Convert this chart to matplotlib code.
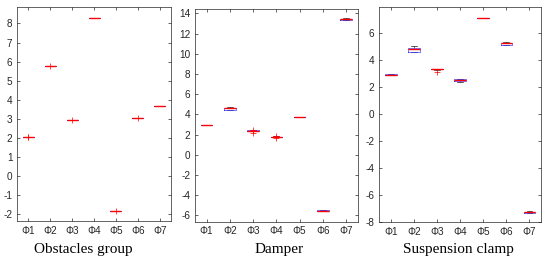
import numpy as np
import matplotlib
matplotlib.use("Agg")
import matplotlib.pyplot as plt

labels = ["Φ1", "Φ2", "Φ3", "Φ4", "Φ5", "Φ6", "Φ7"]

# Obstacles group
obs_med = [2.05, 5.75, 2.93, 8.30, -1.80, 3.07, 3.65]
obs_q1 = [2.05, 5.75, 2.93, 8.30, -1.80, 3.07, 3.65]
obs_q3 = [2.05, 5.75, 2.93, 8.30, -1.80, 3.07, 3.65]
obs_lo = [2.05, 5.75, 2.93, 8.30, -1.80, 3.07, 3.65]
obs_hi = [2.05, 5.75, 2.93, 8.30, -1.80, 3.07, 3.65]
obs_fl = [[2.05, 2.07], [5.75], [2.93], [], [-1.80], [3.07], []]

# Damper
dmp_med = [3.00, 4.62, 2.40, 1.80, 3.70, -5.53, 13.42]
dmp_q1 = [3.00, 4.45, 2.38, 1.79, 3.70, -5.58, 13.38]
dmp_q3 = [3.00, 4.68, 2.42, 1.81, 3.70, -5.49, 13.47]
dmp_lo = [3.00, 4.45, 2.36, 1.77, 3.70, -5.60, 13.36]
dmp_hi = [3.00, 4.78, 2.44, 1.83, 3.70, -5.45, 13.55]
dmp_fl = [[], [], [2.2, 2.42], [1.62, 1.82], [], [], []]

# Suspension clamp
sus_med = [2.90, 4.80, 3.30, 2.48, 7.10, 5.22, -7.28]
sus_q1 = [2.86, 4.60, 3.28, 2.42, 7.09, 5.13, -7.34]
sus_q3 = [2.94, 4.88, 3.31, 2.55, 7.11, 5.26, -7.25]
sus_lo = [2.84, 4.55, 3.26, 2.38, 7.08, 5.12, -7.36]
sus_hi = [2.96, 5.00, 3.32, 2.60, 7.12, 5.28, -7.24]
sus_fl = [[], [], [3.1], [], [], [], []]

titles = ["Obstacles group", "Damper", "Suspension clamp"]

plt.rcParams["font.family"] = ["Liberation Sans", "DejaVu Sans"]
plt.rcParams["axes.unicode_minus"] = False

fig = plt.figure(figsize=(5.5, 2.65), dpi=100)

axes_pos = [
    [0.0315, 0.166, 0.279, 0.806],
    [0.3545, 0.164, 0.296, 0.802],
    [0.6896, 0.161, 0.294, 0.811],
]
ylims = [(-2.35, 8.84), (-6.6, 14.43), (-8.05, 7.88)]
yticks = [np.arange(-2, 9, 1), np.arange(-6, 15, 2), np.arange(-8, 7, 2)]
label_x = [0.152, 0.507, 0.833]

panels = [
    (obs_med, obs_q1, obs_q3, obs_lo, obs_hi, obs_fl),
    (dmp_med, dmp_q1, dmp_q3, dmp_lo, dmp_hi, dmp_fl),
    (sus_med, sus_q1, sus_q3, sus_lo, sus_hi, sus_fl),
]

for k, (med, q1, q3, lo, hi, fl) in enumerate(panels):
    ax = fig.add_axes(axes_pos[k])
    stats = []
    for i in range(len(labels)):
        stats.append(dict(med=med[i], q1=q1[i], q3=q3[i], whislo=lo[i],
                          whishi=hi[i], fliers=fl[i], label=labels[i]))
    ax.bxp(stats, positions=range(1, 8), widths=0.5, showfliers=True,
           capwidths=0.25,
           boxprops=dict(color="#3030ff", lw=0.45, zorder=2),
           medianprops=dict(color="#ff0000", lw=1.0, zorder=5),
           whiskerprops=dict(color="black", lw=0.4, ls="--", zorder=1),
           capprops=dict(color="black", lw=0.45, zorder=1),
           flierprops=dict(marker="+", markeredgecolor="#ff0000",
                           markersize=5, markeredgewidth=0.5, zorder=5))
    ax.set_xlim(0.5, 7.5)
    ax.set_ylim(*ylims[k])
    ax.set_yticks(yticks[k])
    ax.set_xticks(range(1, 8))
    ax.set_xticklabels(labels)
    ax.tick_params(direction="in", length=2.5, width=0.5, top=True,
                   right=True, labelsize=7.2, colors="#262626", pad=3.5)
    for s in ax.spines.values():
        s.set_linewidth(0.5)
        s.set_color("#262626")
    fig.text(label_x[k], 0.06, titles[k], ha="center", va="center",
             family=["Liberation Serif", "DejaVu Serif"], fontsize=11)

fig.savefig("out.png", dpi=100)
